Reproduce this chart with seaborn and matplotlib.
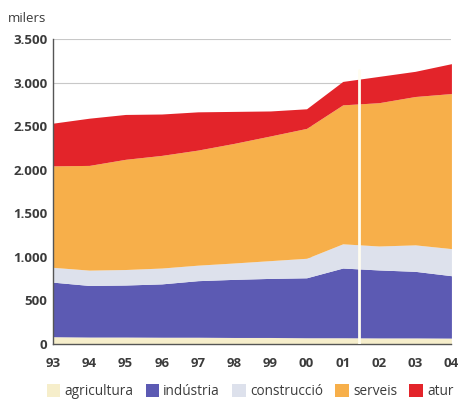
import matplotlib
matplotlib.use("Agg")
import matplotlib.pyplot as plt
import seaborn as sns
import pandas as pd
from matplotlib.patches import Patch

years = [1993, 1994, 1995, 1996, 1997, 1998, 1999, 2000, 2001, 2002, 2003, 2004]
year_labels = ["93", "94", "95", "96", "97", "98", "99", "00", "01", "02", "03", "04"]
agricultura = [84, 80, 80, 78, 78, 75, 75, 72, 72, 70, 70, 68]
industria = [626, 592, 597, 612, 649, 667, 678, 688, 800, 780, 764, 716]
construccio = [170, 176, 178, 182, 178, 188, 204, 224, 278, 275, 304, 311]
serveis = [1165, 1202, 1265, 1293, 1321, 1373, 1431, 1491, 1595, 1645, 1703, 1780]
atur = [490, 542, 515, 475, 439, 367, 287, 225, 269, 302, 289, 343]
series_names = ["agricultura", "indústria", "construcció", "serveis", "atur"]
colors = ["#F6EECB", "#5C5AB3", "#DDE1EC", "#F7AF4A", "#E3242A"]
yticks = [0, 500, 1000, 1500, 2000, 2500, 3000, 3500]
ytick_labels = ["0", "500", "1.000", "1.500", "2.000", "2.500", "3.000", "3.500"]
break_year = 2001.45

df = pd.DataFrame({"year": years, "agricultura": agricultura, "indústria": industria,
                   "construcció": construccio, "serveis": serveis, "atur": atur})

sns.set_theme(style="white")
txt = "#3b3b3b"
plt.rcParams["font.family"] = ["Open Sans", "DejaVu Sans"]

fig = plt.figure(figsize=(4.59, 4.03), dpi=100)
ax = fig.add_axes([0.1155, 0.1464, 0.868, 0.7566])

ax.set_axisbelow(True)
ax.yaxis.grid(True, color="#c8c8c8", linewidth=0.8)
ax.stackplot(df["year"], [df[n] for n in series_names], colors=colors, linewidth=0, zorder=2)
ax.axvline(break_year, ymin=0, ymax=0.9, color="#fffdf0", linewidth=2.0, zorder=3)

ax.set_xlim(1993, 2004)
ax.set_ylim(0, 3500)
ax.set_xticks(years)
ax.set_xticklabels(year_labels)
ax.set_yticks(yticks)
ax.set_yticklabels(ytick_labels)
for s in ["top", "right"]:
    ax.spines[s].set_visible(False)
for s in ["left", "bottom"]:
    ax.spines[s].set_color("#555555")
    ax.spines[s].set_linewidth(1.0)
ax.tick_params(axis="both", which="both", direction="inout", length=4, width=1,
               color="#555555", labelcolor=txt, labelsize=9.5)
ax.tick_params(axis="x", pad=7)
ax.tick_params(axis="y", pad=2)
for lab in ax.get_xticklabels() + ax.get_yticklabels():
    lab.set_fontweight("bold")

fig.text(0.017, 0.955, "milers", fontsize=9.5, color=txt, ha="left", va="center")

handles = [Patch(facecolor=c, edgecolor="none") for c in colors]
fig.legend(handles, series_names, loc="center", bbox_to_anchor=(0.545, 0.028), ncol=5,
           frameon=False, fontsize=9.8, handlelength=1.0, handleheight=1.0,
           handletextpad=0.3, columnspacing=0.9, labelcolor=txt)

fig.savefig("out.png", dpi=100)
